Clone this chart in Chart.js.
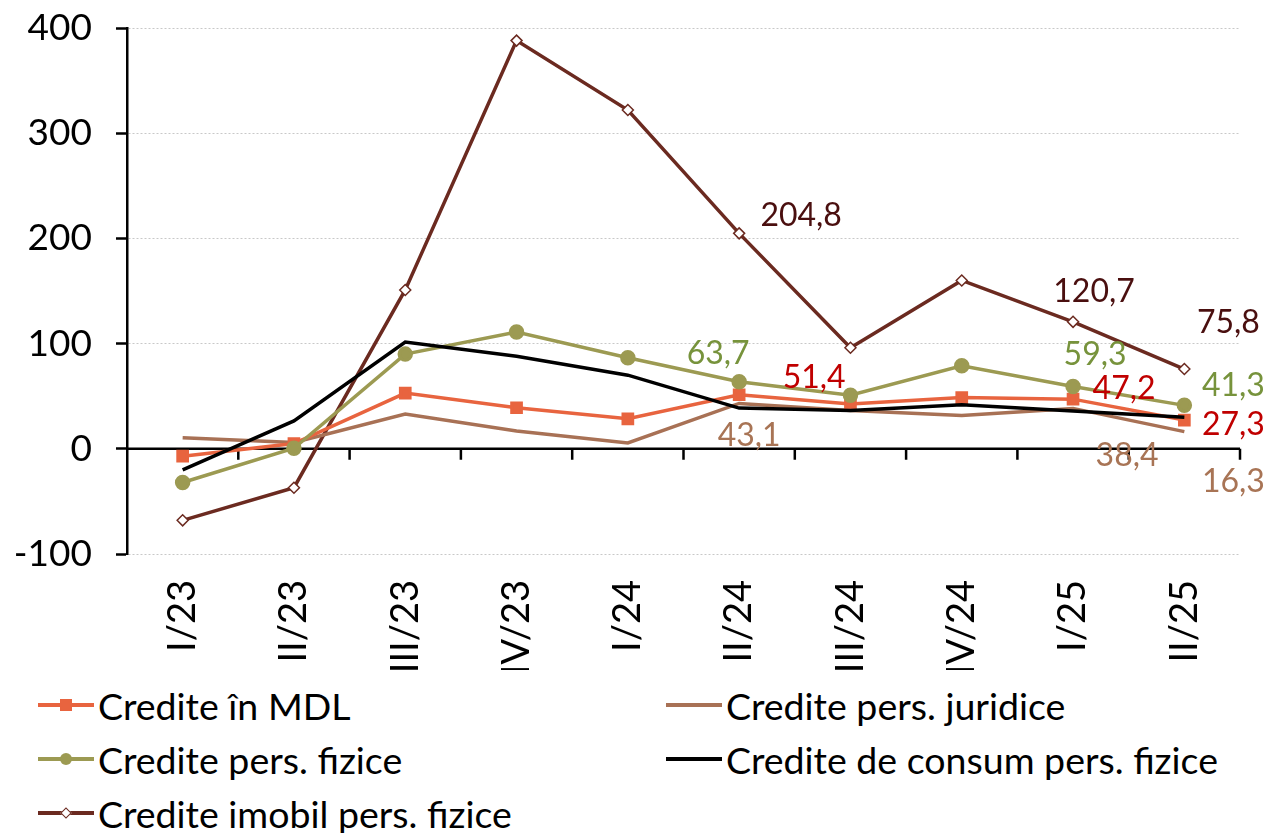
<!DOCTYPE html>
<html>
<head>
<meta charset="utf-8">
<script src="https://cdn.jsdelivr.net/npm/chart.js@4.4.1/dist/chart.umd.min.js"></script>
<style>
  html, body { margin: 0; padding: 0; background: #fff; }
  body { width: 1264px; height: 833px; overflow: hidden; font-family: Lato, sans-serif; }
  #wrap { position: relative; width: 1264px; height: 670px; }
  #legend {
    display: grid;
    grid-template-columns: 628px 600px;
    row-gap: 0;
    padding-left: 38px;
    margin-top: 8px;
  }
  .item { display: flex; align-items: center; height: 54px; font-size: 37.5px; color: #000; white-space: nowrap; }
  .sym { position: relative; width: 56px; height: 20px; margin-right: 4px; flex: none; }
  .sym .ln { position: absolute; left: 0; right: 0; top: 8px; height: 4px; }
  .sym .mk { position: absolute; left: 50%; top: 50%; transform: translate(-50%, -50%); box-sizing: border-box; }
</style>
</head>
<body>
<div id="wrap"><canvas id="chart" width="1264" height="670"></canvas></div>
<div id="legend"></div>
<script>
const categories = ['I/23', 'II/23', 'III/23', 'IV/23', 'I/24', 'II/24', 'III/24', 'IV/24', 'I/25', 'II/25'];

const crediteMDL = [-7, 5, 53, 39, 28.5, 51.4, 42.7, 48.7, 47.2, 27.3];
const crediteJuridice = [10.5, 6, 33, 17, 5.5, 43.1, 36.4, 31.6, 38.4, 16.3];
const crediteFizice = [-32, 0.5, 90, 111, 86.5, 63.7, 51, 79, 59.3, 41.3];
const crediteConsum = [-20, 26.5, 101.5, 88, 70, 38.7, 36.4, 41.8, 36, 30];
const crediteImobil = [-68, -37, 151, 388, 322, 204.8, 96, 160, 120.7, 75.8];

const yTicks = [-100, 0, 100, 200, 300, 400];

// which points carry a value label: [dataset index, point index, dx, dy]
const labelSpots = [
  [4, 5, 62, -18], [4, 8, 21, -30], [4, 9, 44, -46],
  [2, 5, -21, -28], [2, 8, 22, -32], [2, 9, 49, -20],
  [0, 5, 75, -17], [0, 8, 51, -10], [0, 9, 49, 5],
  [1, 5, 10, 32], [1, 8, 54, 47], [1, 9, 49, 50]
];
const labelColors = ['#c00000', '#a87455', '#77933c', '#000000', '#4a0f0f'];

const FONT = 'Lato, sans-serif';

const datasets = [
  { label: 'Credite în MDL', data: crediteMDL, borderColor: '#e8643f', backgroundColor: '#e8643f',
    pointStyle: 'rect', pointRadius: 6.5, mk: 'square' },
  { label: 'Credite pers. juridice', data: crediteJuridice, borderColor: '#a87155', backgroundColor: '#a87155',
    pointRadius: 0, mk: 'none' },
  { label: 'Credite pers. fizice', data: crediteFizice, borderColor: '#9c9a52', backgroundColor: '#9c9a52',
    pointStyle: 'circle', pointRadius: 6, mk: 'circle' },
  { label: 'Credite de consum pers. fizice', data: crediteConsum, borderColor: '#000000', backgroundColor: '#000000',
    pointRadius: 0, mk: 'none' },
  { label: 'Credite imobil pers. fizice', data: crediteImobil, borderColor: '#6b2a20', backgroundColor: '#ffffff',
    pointStyle: 'rectRot', pointRadius: 5.5, pointBorderWidth: 1.5, mk: 'diamond' }
];
datasets.forEach(d => { d.borderWidth = 3.5; d.tension = 0; d.pointHoverRadius = d.pointRadius; });
// draw order like the original: imobil at the back
const order = [4, 1, 0, 2, 3];
order.forEach((idx, k) => { datasets[idx].order = 5 - k; });

const axisExtras = {
  id: 'axisExtras',
  beforeDatasetsDraw(chart) {
    const { ctx, chartArea, scales } = chart;
    const x = scales.x, y = scales.y;
    const y0 = y.getPixelForValue(0);
    ctx.save();
    ctx.strokeStyle = '#000';
    ctx.lineWidth = 2.5;
    ctx.beginPath();
    ctx.moveTo(chartArea.left, y0);
    ctx.lineTo(chartArea.right, y0);
    // category boundary ticks
    for (let i = 0; i < categories.length; i++) {
      const bx = i < categories.length - 1
        ? (x.getPixelForValue(i) + x.getPixelForValue(i + 1)) / 2
        : chartArea.right;
      ctx.moveTo(bx, y0);
      ctx.lineTo(bx, y0 + 11);
    }
    ctx.stroke();
    ctx.restore();
  }
};

const valueLabels = {
  id: 'valueLabels',
  afterDatasetsDraw(chart) {
    const { ctx } = chart;
    ctx.save();
    ctx.font = '32px ' + FONT;
    ctx.textAlign = 'center';
    ctx.textBaseline = 'middle';
    labelSpots.forEach(([ds, i, dx, dy]) => {
      const pt = chart.getDatasetMeta(ds).data[i];
      const v = chart.data.datasets[ds].data[i];
      ctx.fillStyle = labelColors[ds];
      ctx.fillText(v.toFixed(1).replace('.', ','), pt.x + dx, pt.y + dy);
    });
    ctx.restore();
  }
};

new Chart(document.getElementById('chart'), {
  type: 'line',
  data: { labels: categories, datasets },
  plugins: [axisExtras, valueLabels],
  options: {
    responsive: false,
    animation: false,
    events: [],
    layout: { padding: { top: 28, right: 24, left: 0, bottom: 0 } },
    plugins: { legend: { display: false }, tooltip: { enabled: false } },
    scales: {
      x: {
        offset: true,
        grid: { display: false, drawTicks: false },
        border: { display: false },
        ticks: { font: { family: FONT, size: 38 }, color: '#000', minRotation: 90, maxRotation: 90, padding: 26 },
        afterFit(s) { s.height = 116; }
      },
      y: {
        min: -100, max: 400,
        afterBuildTicks(s) { s.ticks = yTicks.map(v => ({ value: v })); },
        grid: { color: '#c8c8c8', lineWidth: 1, tickLength: 11, tickColor: '#000', tickWidth: 2.5 },
        border: { display: true, color: '#000', width: 2.5, dash: [2, 2] },
        ticks: { font: { family: FONT, size: 37 }, color: '#000', padding: 24 },
        afterFit(s) { s.width = 127; s.paddingTop = 0; s.paddingBottom = 0; }
      }
    }
  }
});

// legend in two columns as in the original
const legend = document.getElementById('legend');
const legendOrder = [0, 1, 2, 3, 4];
legendOrder.forEach(i => {
  const d = datasets[i];
  const item = document.createElement('div');
  item.className = 'item';
  const sym = document.createElement('span');
  sym.className = 'sym';
  const ln = document.createElement('span');
  ln.className = 'ln';
  ln.style.background = d.borderColor;
  sym.appendChild(ln);
  if (d.mk !== 'none') {
    const mk = document.createElement('span');
    mk.className = 'mk';
    if (d.mk === 'square') {
      mk.style.width = '12px'; mk.style.height = '12px'; mk.style.background = d.borderColor;
    } else if (d.mk === 'circle') {
      mk.style.width = '12px'; mk.style.height = '12px'; mk.style.borderRadius = '50%'; mk.style.background = d.borderColor;
    } else {
      mk.style.width = '8px'; mk.style.height = '8px'; mk.style.background = '#fff';
      mk.style.border = '1.5px solid ' + d.borderColor;
      mk.style.transform = 'translate(-50%, -50%) rotate(45deg)';
    }
    sym.appendChild(mk);
  }
  item.appendChild(sym);
  item.appendChild(document.createTextNode(d.label));
  legend.appendChild(item);
});
</script>
</body>
</html>
